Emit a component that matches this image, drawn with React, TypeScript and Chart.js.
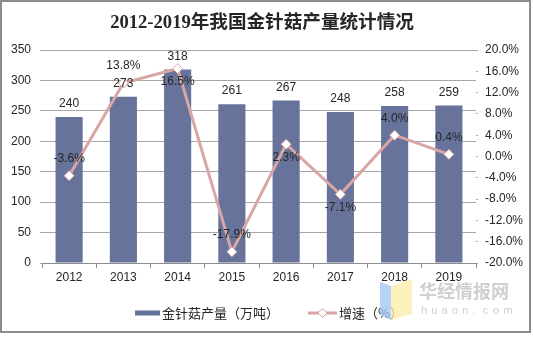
import React, { useEffect, useRef } from 'react';
import { Chart, registerables } from 'chart.js';

Chart.register(...registerables);

const years = ['2012', '2013', '2014', '2015', '2016', '2017', '2018', '2019'];
const output = [240, 273, 318, 261, 267, 248, 258, 259];
const growth = [-3.6, 13.8, 16.5, -17.9, 2.3, -7.1, 4.0, 0.4];
const growthLabelSide = ['above', 'above', 'below', 'above', 'below', 'below', 'above', 'above'];

const TITLE = '2012-2019年我国金针菇产量统计情况';
const BAR_NAME = '金针菇产量（万吨）';
const LINE_NAME = '增速（%）';

const BAR_COLOR = '#67739A';
const LINE_COLOR = '#D9A5A5';
const TEXT = '#262626';
const SANS = '"Liberation Sans", Arial, "Noto Sans CJK SC", sans-serif';

const decorPlugin = {
  id: 'decor',
  beforeDraw(chart: any) {
    const ctx = chart.ctx;
    ctx.save();
    ctx.fillStyle = '#ffffff';
    ctx.fillRect(0, 0, chart.width, chart.height);
    ctx.restore();
  },
  afterDatasetsDraw(chart: any) {
    const ctx = chart.ctx;
    ctx.save();
    ctx.font = '12px ' + SANS;
    ctx.fillStyle = TEXT;
    ctx.textAlign = 'center';
    ctx.textBaseline = 'middle';
    const barMeta = chart.getDatasetMeta(0);
    barMeta.data.forEach((el: any, i: number) => {
      ctx.fillText(String(output[i]), el.x, el.y - 13);
    });
    const lineMeta = chart.getDatasetMeta(1);
    lineMeta.data.forEach((el: any, i: number) => {
      const dy = growthLabelSide[i] === 'above' ? -17 : 13;
      ctx.fillText(growth[i].toFixed(1) + '%', el.x, el.y + dy);
    });
    ctx.restore();
  },
  afterDraw(chart: any) {
    const ctx = chart.ctx;
    ctx.save();
    // title
    ctx.fillStyle = TEXT;
    ctx.font = 'bold 18.6px "Liberation Serif", "Noto Sans CJK SC", serif';
    ctx.textAlign = 'center';
    ctx.textBaseline = 'middle';
    ctx.fillText(TITLE, 262, 23);

    // legend
    const ly = 313;
    ctx.fillStyle = BAR_COLOR;
    ctx.fillRect(135, ly - 2.5, 25, 5);
    ctx.fillStyle = TEXT;
    ctx.font = '13px "Noto Sans CJK SC", ' + SANS;
    ctx.textAlign = 'left';
    ctx.fillText(BAR_NAME, 162, ly);

    ctx.strokeStyle = LINE_COLOR;
    ctx.lineWidth = 3;
    ctx.beginPath();
    ctx.moveTo(308, ly);
    ctx.lineTo(337, ly);
    ctx.stroke();
    ctx.fillStyle = '#ffffff';
    ctx.lineWidth = 1;
    ctx.beginPath();
    ctx.moveTo(322.5, ly - 4.5);
    ctx.lineTo(327, ly);
    ctx.lineTo(322.5, ly + 4.5);
    ctx.lineTo(318, ly);
    ctx.closePath();
    ctx.fill();
    ctx.stroke();
    ctx.fillStyle = TEXT;
    ctx.fillText(LINE_NAME, 339, ly);

    // watermark
    ctx.globalAlpha = 0.75;
    ctx.fillStyle = '#9EC3F2';
    ctx.beginPath();
    ctx.moveTo(380, 282);
    ctx.lineTo(391, 286);
    ctx.lineTo(391, 320);
    ctx.lineTo(380, 315);
    ctx.closePath();
    ctx.fill();
    ctx.fillStyle = '#FCEDA8';
    ctx.beginPath();
    ctx.moveTo(391, 286);
    ctx.lineTo(412, 279);
    ctx.lineTo(412, 314);
    ctx.lineTo(391, 320);
    ctx.closePath();
    ctx.fill();
    ctx.globalAlpha = 1;
    ctx.fillStyle = '#CFCFCF';
    ctx.font = 'bold 18px "Noto Sans CJK SC", sans-serif';
    ctx.textAlign = 'left';
    ctx.fillText('华经情报网', 419, 291);
    ctx.font = '11px ' + SANS;
    const letters = 'huaon.com';
    for (let i = 0; i < letters.length; i++) {
      ctx.fillText(letters[i], 421 + i * 10.3, 311);
    }

    // outer border
    ctx.strokeStyle = '#8C8C8C';
    ctx.lineWidth = 2;
    ctx.strokeRect(1, 1, 529, 331);
    ctx.restore();
  },
};

export default function App() {
  const ref = useRef<HTMLCanvasElement | null>(null);
  useEffect(() => {
    if (!ref.current) return;
    const chart = new Chart(ref.current, {
      type: 'bar',
      data: {
        labels: years,
        datasets: [
          {
            type: 'bar',
            label: BAR_NAME,
            data: output,
            backgroundColor: BAR_COLOR,
            barPercentage: 0.5,
            categoryPercentage: 1,
            yAxisID: 'y',
            order: 2,
          },
          {
            type: 'line',
            label: LINE_NAME,
            data: growth,
            borderColor: LINE_COLOR,
            borderWidth: 3,
            pointStyle: 'rectRot',
            pointRadius: 5,
            pointBorderWidth: 1,
            pointBackgroundColor: '#ffffff',
            pointBorderColor: LINE_COLOR,
            tension: 0,
            yAxisID: 'y1',
            order: 1,
          },
        ],
      },
      options: {
        responsive: false,
        animation: false,
        devicePixelRatio: 1,
        layout: { padding: { top: 50, bottom: 53, left: 0, right: 0 } },
        plugins: {
          legend: { display: false },
          title: { display: false },
          tooltip: { enabled: false },
        },
        scales: {
          x: {
            offset: true,
            grid: {
              offset: true,
              drawOnChartArea: false,
              drawTicks: true,
              tickLength: 5,
              color: '#8C8C8C',
            },
            border: { display: true, color: '#8C8C8C' },
            ticks: { color: TEXT, font: { size: 12, family: SANS }, padding: 2 },
            afterFit: (s: any) => { s.height = 22; },
          },
          y: {
            position: 'left',
            min: 0,
            max: 350,
            ticks: { stepSize: 50, color: TEXT, font: { size: 12, family: SANS }, padding: 9 },
            grid: { color: '#A6A6A6', tickLength: 2, drawTicks: true },
            border: { display: false },
            afterFit: (s: any) => { s.width = 42; },
          },
          y1: {
            position: 'right',
            min: -20,
            max: 20,
            ticks: {
              stepSize: 4,
              color: TEXT,
              font: { size: 12, family: SANS },
              padding: 7,
              callback: (v: any) => Number(v).toFixed(1) + '%',
            },
            grid: { drawOnChartArea: false, tickLength: 2, color: '#A6A6A6' },
            border: { display: false },
            afterFit: (s: any) => { s.width = 58; },
          },
        },
      },
      plugins: [decorPlugin],
    });
    return () => chart.destroy();
  }, []);
  return (
    <div style={{ position: 'fixed', left: 0, top: 0, width: 534, height: 338, background: '#fff' }}>
      <canvas ref={ref} width={534} height={338} style={{ display: 'block' }} />
    </div>
  );
}
